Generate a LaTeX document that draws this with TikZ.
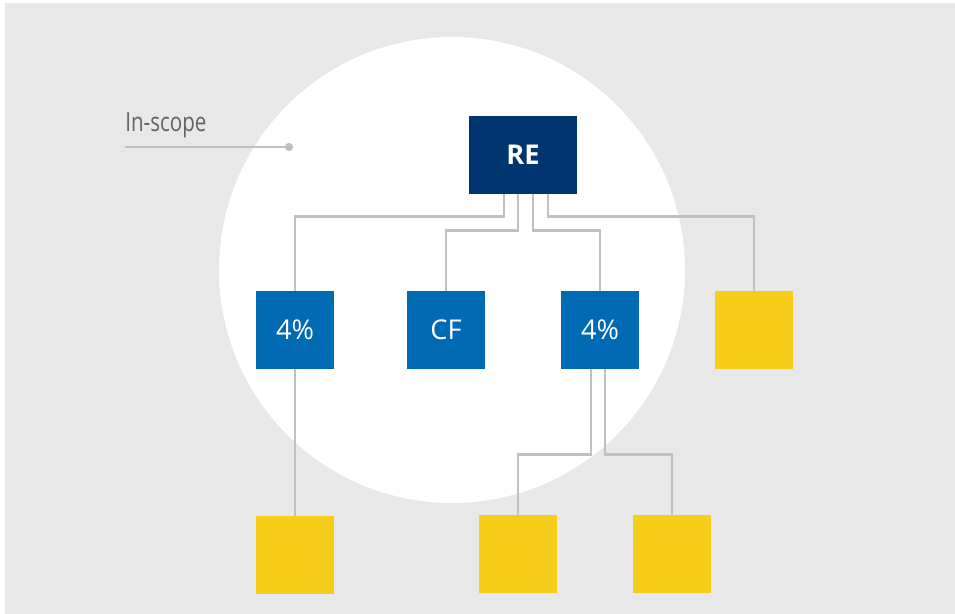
\documentclass[tikz,border=0pt]{standalone}
\usepackage{fontspec}
\setmainfont{Open Sans}
\newfontfamily\narrowfont[FakeStretch=0.78]{Open Sans}
\definecolor{bggray}{HTML}{E8E8E8}
\definecolor{darkblue}{HTML}{003570}
\definecolor{midblue}{HTML}{006AB4}
\definecolor{yellowbox}{HTML}{F6CE1A}
\definecolor{linkgray}{HTML}{BAC1C8}
\definecolor{textgray}{HTML}{636466}
\tikzset{
	box/.style={inner sep=0pt, minimum width=1.56cm, minimum height=1.56cm, text=white, font=\fontsize{15.5}{18}\selectfont},
	topbox/.style={box, fill=darkblue, minimum width=2.16cm, font=\fontsize{15.5}{18}\selectfont\bfseries},
	entity/.style={box, fill=midblue},
	outbox/.style={box, fill=yellowbox},
	link/.style={draw=linkgray, line width=1.6pt},
}
\begin{document}
\begin{tikzpicture}[x=0.02cm, y=-0.02cm, line join=miter]
	\useasboundingbox (0,0) rectangle (955,614);
	\fill[bggray] (5,3) rectangle (955,614);
	\fill[white] (452,270) circle (4.66cm);
	% label
	\node[anchor=base west, inner sep=0pt, text=textgray, font=\narrowfont\fontsize{15}{17}\selectfont] (inscope) at (125,132) {In-scope};
	\coordinate (dot) at (289,147);
	\draw[link] (125,147) -- (dot);
	\fill[linkgray] (dot) circle (2.4pt);
	% boxes
	\node[topbox] (re) at (523,155) {RE};
	\node[entity] (pa) at (295,330) {4\%};
	\node[entity] (cf) at (446,330) {CF};
	\node[entity] (pb) at (600,330) {4\%};
	\node[outbox] (ya) at (754,330) {};
	\node[outbox] (yb) at (295,555) {};
	\node[outbox] (yc) at (518,554) {};
	\node[outbox] (yd) at (672,554) {};
	% links
	\draw[link] ([xshift=-19*0.02cm]re.south) -- ++(0,22) -| (pa.north);
	\draw[link] ([xshift=-5*0.02cm]re.south) -- ++(0,36) -| (cf.north);
	\draw[link] ([xshift=10*0.02cm]re.south) -- ++(0,36) -| (pb.north);
	\draw[link] ([xshift=25*0.02cm]re.south) -- ++(0,22) -| (ya.north);
	\draw[link] (pa.south) -- (yb.north);
	\draw[link] ([xshift=-9*0.02cm]pb.south) -- ++(0,85) -| (yc.north);
	\draw[link] ([xshift=5*0.02cm]pb.south) -- ++(0,85) -| (yd.north);
\end{tikzpicture}
\end{document}
